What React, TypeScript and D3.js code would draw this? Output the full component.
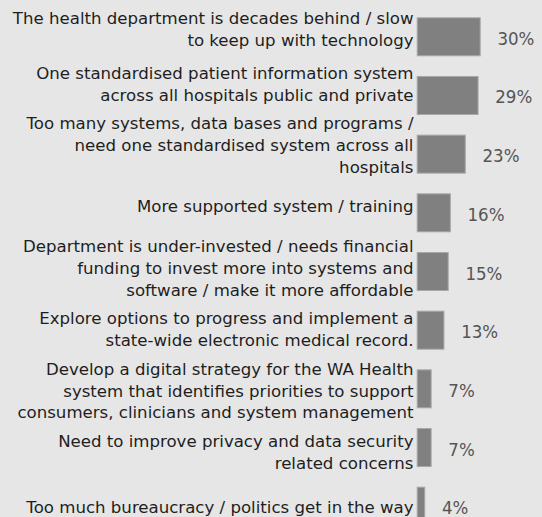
import React from "react";
import * as d3 from "d3";

const categories: string[][] = [
  ["The health department is decades behind / slow", "to keep up with technology"],
  ["One standardised patient information system", "across all hospitals public and private"],
  ["Too many systems, data bases and programs /", "need one standardised system across all", "hospitals"],
  ["More supported system / training"],
  ["Department is under-invested / needs financial", "funding to invest more into systems and", "software / make it more affordable"],
  ["Explore options to progress and implement a", "state-wide electronic medical record."],
  ["Develop a digital strategy for the WA Health", "system that identifies priorities to support", "consumers, clinicians and system management"],
  ["Need to improve privacy and data security", "related concerns"],
  ["Too much bureaucracy / politics get in the way"],
];
const values: number[] = [30, 29, 23, 16, 15, 13, 7, 7, 4];
const valueLabels: string[] = ["30%", "29%", "23%", "16%", "15%", "13%", "7%", "7%", "4%"];

const W = 542;
const H = 517;
const BAR_X0 = 416.7;
const LINE_H = 21.8;

export default function App() {
  const ids = categories.map((_, i) => String(i));
  const x = d3.scaleLinear().domain([0, 30]).range([BAR_X0, 480.7]);
  const step = 58.675;
  const bw = 39;
  const yBar = d3
    .scaleBand<string>()
    .domain(ids)
    .range([17.3, 17.3 + 8 * step + bw])
    .paddingInner(1 - bw / step)
    .paddingOuter(0);
  const yLabel = d3.scalePoint<string>().domain(ids).range([28.2, 519.4]);

  return (
    <svg
      width={W}
      height={H}
      style={{ position: "absolute", left: 0, top: 0, display: "block" }}
    >
      <rect x={0} y={0} width={W} height={H} fill="#e6e6e6" />
      {categories.map((lines, i) => {
        const id = ids[i];
        const y0 = yBar(id)!;
        const n = lines.length;
        let first = yLabel(id)! - ((n - 1) / 2) * LINE_H;
        if (first < 24) first = 24;
        if (first + (n - 1) * LINE_H > 513.3) first = 513.3 - (n - 1) * LINE_H;
        const xe = x(values[i]);
        return (
          <g key={id}>
            <rect
              x={BAR_X0 + 0.5}
              y={y0 + 0.5}
              width={Math.max(0, xe - BAR_X0 - 1)}
              height={yBar.bandwidth() - 1}
              fill="#808080"
              stroke="#a8a8a8"
              strokeWidth={1}
            />
            <text
              textAnchor="end"
              fontFamily="'DejaVu Sans', sans-serif"
              fontSize={16.6}
              fill="#1e1e1e"
            >
              {lines.map((ln, k) => (
                <tspan key={k} x={413.5} y={first + k * LINE_H}>
                  {ln}
                </tspan>
              ))}
            </text>
            <text
              x={xe + 16.7}
              y={y0 + bw / 2 + 8}
              fontFamily="'DejaVu Sans Condensed', 'DejaVu Sans', sans-serif"
              style={{ fontStretch: "condensed" }}
              fontSize={18.5}
              fill="#555555"
            >
              {valueLabels[i]}
            </text>
          </g>
        );
      })}
    </svg>
  );
}
